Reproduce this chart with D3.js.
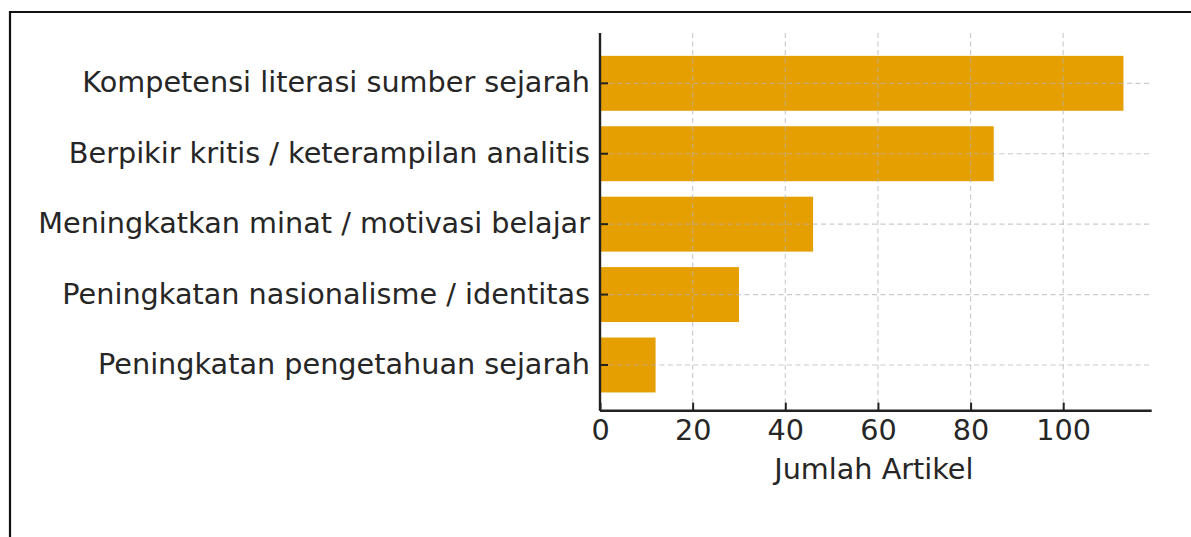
<!DOCTYPE html>
<html>
<head>
<meta charset="utf-8">
<script src="https://cdn.jsdelivr.net/npm/d3@7"></script>
<style>
  body { margin: 0; background: #fff; }
  svg text { font-family: "DejaVu Sans", sans-serif; fill: #262626; }
</style>
</head>
<body>
<div id="chart"></div>
<script>
// kategori dan jumlah artikel (atas ke bawah)
let categories = ['Kompetensi literasi sumber sejarah', 'Berpikir kritis / keterampilan analitis', 'Meningkatkan minat / motivasi belajar', 'Peningkatan nasionalisme / identitas', 'Peningkatan pengetahuan sejarah'];
let counts = [113, 85, 46, 30, 12];
let xTicks = [0, 20, 40, 60, 80, 100];
let xLabel = 'Jumlah Artikel';

let svgAttr = {width: 1191, height: 537};
let plot = {left: 600, right: 1151.7, top: 33, bottom: 410.7};
let fontSize = '28.7px';

let svg = d3.select('#chart').append('svg').attr('width', svgAttr.width).attr('height', svgAttr.height);

// bingkai (hanya atas & kiri terlihat)
svg.append('path').attr('d', 'M10,' + (svgAttr.height + 5) + ' L10,12 L' + (svgAttr.width + 5) + ',12')
    .attr('fill', 'none').attr('stroke', '#111').attr('stroke-width', 2.2);

let xScale = d3.scaleLinear().domain([0, 119.1]).range([plot.left, plot.right]);
let yScale = d3.scaleBand().domain(categories).range([48.1, 400.2]).paddingInner(0.22).paddingOuter(0.11);

// batang
svg.append('g').selectAll('rect').data(counts).enter().append('rect')
    .attr('x', xScale(0))
    .attr('y', function (d, i) { return yScale(categories[i]); })
    .attr('width', function (d) { return xScale(d) - xScale(0); })
    .attr('height', yScale.bandwidth())
    .attr('fill', '#E69F00');

// grid putus-putus di atas batang
let grid = svg.append('g').attr('stroke', '#b0b0b0').attr('stroke-opacity', 0.65)
    .attr('stroke-width', 1.2).attr('stroke-dasharray', '5,3.5');
grid.selectAll('.vg').data(xTicks).enter().append('line')
    .attr('x1', function (d) { return xScale(d); }).attr('x2', function (d) { return xScale(d); })
    .attr('y1', plot.top).attr('y2', plot.bottom);
grid.selectAll('.hg').data(categories).enter().append('line')
    .attr('x1', plot.left).attr('x2', plot.right)
    .attr('y1', function (d) { return yScale(d) + yScale.bandwidth() / 2; })
    .attr('y2', function (d) { return yScale(d) + yScale.bandwidth() / 2; });

// sumbu x
let xAxis = d3.axisBottom(xScale).tickValues(xTicks).tickSizeInner(-8).tickSizeOuter(0).tickPadding(9);
let gx = svg.append('g').attr('transform', 'translate(0,' + plot.bottom + ')').call(xAxis);
gx.select('.domain').attr('stroke', '#222').attr('stroke-width', 2.4).attr('d', 'M' + plot.left + ',0H' + plot.right);
gx.selectAll('line').attr('stroke', '#222').attr('stroke-width', 2);
gx.selectAll('text').attr('font-size', fontSize).attr('fill', '#262626').attr('font-family', '"DejaVu Sans", sans-serif');

// sumbu y
let yAxis = d3.axisLeft(yScale).tickSizeInner(-8).tickSizeOuter(0).tickPadding(10);
let gy = svg.append('g').attr('transform', 'translate(' + plot.left + ',0)').call(yAxis);
gy.select('.domain').attr('stroke', '#222').attr('stroke-width', 2.4).attr('d', 'M0,' + plot.top + 'V' + plot.bottom);
gy.selectAll('line').attr('stroke', '#222').attr('stroke-width', 2);
gy.selectAll('text').attr('font-size', fontSize).attr('fill', '#262626').attr('font-family', '"DejaVu Sans", sans-serif');

// label sumbu
svg.append('text').attr('x', (xScale(0) + plot.right) / 2 - 2).attr('y', 478.5)
    .attr('text-anchor', 'middle').attr('font-size', fontSize).text(xLabel);
</script>
</body>
</html>
